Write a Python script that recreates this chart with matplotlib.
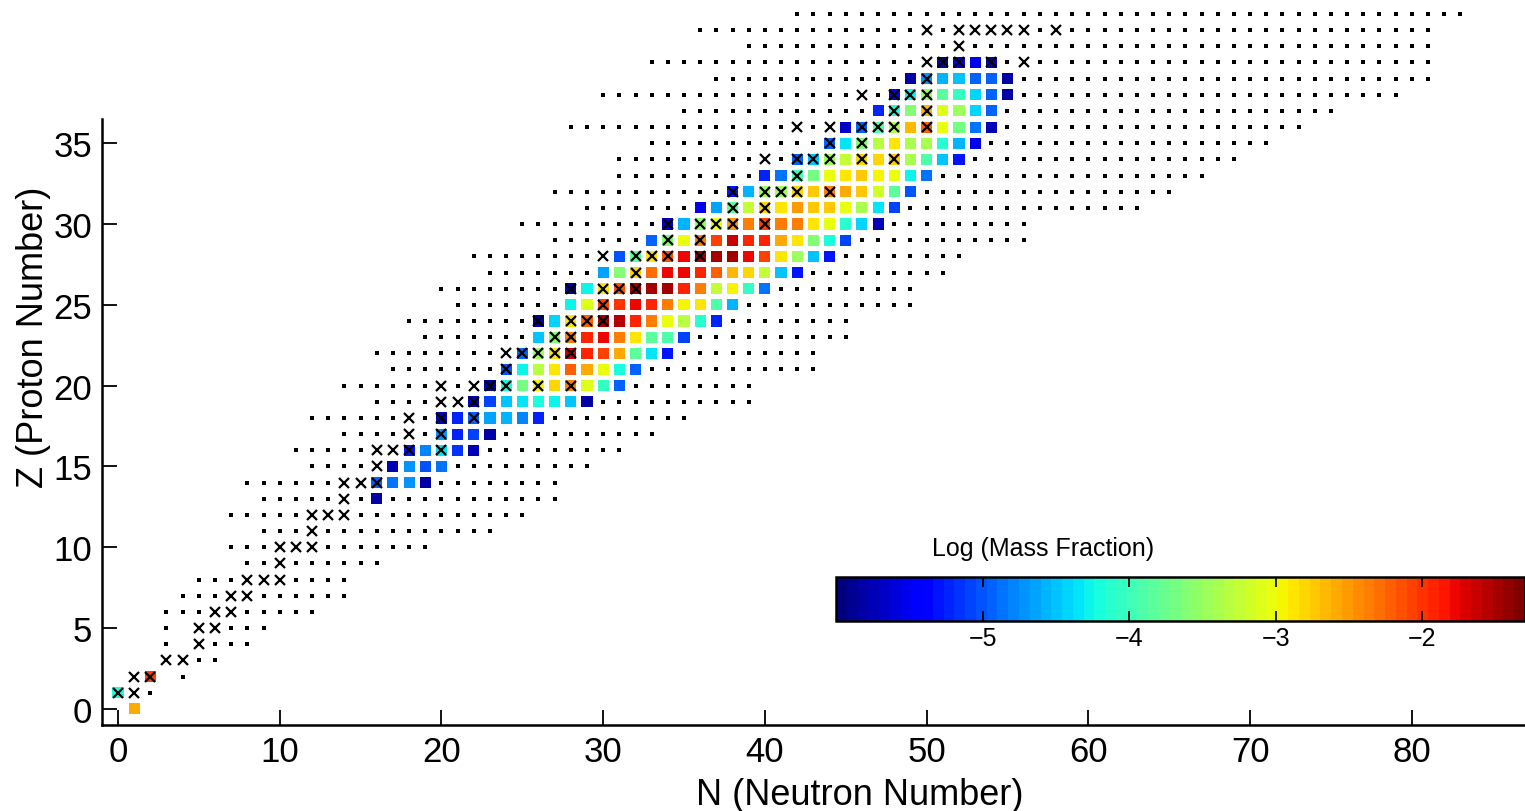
import matplotlib
matplotlib.use("Agg")
import matplotlib.pyplot as plt

plt.rcParams['font.family'] = ['Liberation Sans', 'DejaVu Sans']

# network nuclei: first and last neutron number for each Z = 0 .. 43
n_lo = [1, 0, 1, 3, 3, 3, 3, 4, 5, 8, 7, 9, 7, 9, 8, 12, 11, 14, 12, 16, 14, 17,
        16, 19, 18, 21, 20, 23, 22, 27, 25, 29, 27, 31, 31, 33, 28, 35, 30, 37, 33, 39, 36, 42]
n_hi = [1, 2, 4, 6, 8, 9, 12, 14, 14, 16, 19, 23, 25, 27, 27, 29, 31, 33, 35, 39, 39, 43,
        43, 45, 45, 49, 49, 51, 52, 56, 56, 63, 65, 67, 69, 71, 73, 75, 79, 81, 81, 81, 81, 83]
# (Z, N) holes inside those ranges (unbound)
gaps = [(2, 3), (4, 4), (5, 4)]

# stable isotopes (x marks), N per Z
stable = {
    1: [0, 1], 2: [1, 2], 3: [3, 4], 4: [5], 5: [5, 6], 6: [6, 7], 7: [7, 8],
    8: [8, 9, 10], 9: [10], 10: [10, 11, 12], 11: [12], 12: [12, 13, 14], 13: [14],
    14: [14, 15, 16], 15: [16], 16: [16, 17, 18, 20], 17: [18, 20], 18: [18, 20, 22],
    19: [20, 21, 22], 20: [20, 22, 23, 24, 26, 28], 21: [24], 22: [24, 25, 26, 27, 28],
    23: [27, 28], 24: [26, 28, 29, 30], 25: [30], 26: [28, 30, 31, 32], 27: [32],
    28: [30, 32, 33, 34, 36], 29: [34, 36], 30: [34, 36, 37, 38, 40], 31: [38, 40],
    32: [38, 40, 41, 42, 44], 33: [42], 34: [40, 42, 43, 44, 46, 48], 35: [44, 46],
    36: [42, 44, 46, 47, 48, 50], 37: [48, 50], 38: [46, 48, 49, 50], 39: [50],
    40: [50, 51, 52, 54, 56], 41: [52], 42: [50, 52, 53, 54, 55, 56, 58],
}

# log10 mass fraction: Z -> (first N, values along N)
abund = {
    0: (1, [-2.6]),
    1: (0, [-4.2]),
    2: (2, [-2.05]),
    13: (16, [-5.8]),
    14: (16, [-4.9, -4.85, -4.7, -5.8]),
    15: (17, [-5.75, -4.75, -5.0, -4.85]),
    16: (18, [-5.3, -4.8, -4.35, -5.15, -5.75]),
    17: (20, [-4.75, -5.2, -5.05, -5.85]),
    18: (20, [-5.7, -5.2, -4.95, -4.65, -4.6, -4.8, -5.25]),
    19: (22, [-5.75, -5.05, -4.5, -4.35, -4.2, -4.3, -4.5, -5.8]),
    20: (23, [-5.8, -4.2, -3.7, -2.95, -2.8, -2.4, -3.1, -4.05, -4.9]),
    21: (24, [-5.0, -4.3, -3.3, -2.85, -2.25, -2.6, -3.05, -4.2, -4.95]),
    22: (25, [-4.9, -3.5, -2.85, -1.65, -1.95, -2.1, -2.6, -3.8, -4.35, -5.3]),
    23: (26, [-4.5, -3.65, -2.4, -1.95, -1.75, -2.4, -2.85, -3.85, -3.9, -5.05]),
    24: (26, [-5.8, -4.45, -2.85, -2.25, -1.5, -1.55, -1.95, -2.4, -3.05, -3.3, -4.15, -5.2]),
    25: (28, [-4.25, -3.1, -2.05, -2.0, -1.75, -1.95, -2.35, -2.95, -2.85, -3.9, -4.6]),
    26: (28, [-5.85, -4.3, -2.85, -2.15, -1.5, -1.45, -1.45, -1.95, -2.35, -3.25, -2.95, -4.05, -4.85]),
    27: (30, [-4.65, -3.6, -2.8, -2.3, -1.8, -1.8, -1.95, -2.25, -2.65, -2.8, -3.25, -4.5, -5.3]),
    28: (31, [-5.0, -3.8, -2.9, -2.15, -1.8, -1.45, -1.45, -1.5, -1.75, -2.05, -2.9, -3.45, -4.5, -5.3]),
    29: (33, [-4.9, -3.65, -3.05, -2.4, -2.05, -1.65, -1.95, -1.95, -2.55, -2.85, -3.65, -4.2, -5.1]),
    30: (34, [-5.7, -4.6, -3.55, -3.05, -2.5, -2.4, -2.05, -2.4, -2.35, -2.9, -3.05, -4.1, -4.45, -5.75]),
    31: (36, [-5.5, -4.65, -3.8, -3.25, -2.8, -2.85, -2.5, -2.7, -2.7, -3.05, -3.4, -4.35, -5.05]),
    32: (38, [-5.3, -4.6, -3.5, -3.45, -2.8, -2.75, -2.35, -2.6, -2.75, -3.15, -3.8, -5.0]),
    33: (40, [-5.25, -4.85, -4.0, -3.7, -3.0, -2.85, -2.75, -2.95, -3.05, -4.3, -4.85]),
    34: (42, [-4.95, -4.5, -3.5, -3.25, -2.8, -2.8, -2.75, -3.4, -3.9, -4.5, -5.3]),
    35: (44, [-4.9, -4.35, -3.6, -3.3, -2.85, -3.4, -3.4, -4.15, -4.6, -5.55]),
    36: (45, [-5.65, -4.95, -3.9, -3.35, -2.65, -2.25, -3.0, -3.7, -4.85, -5.75]),
    37: (47, [-5.2, -4.15, -3.6, -2.65, -3.1, -3.45, -4.45, -4.9]),
    38: (48, [-5.5, -4.3, -3.45, -3.85, -4.05, -4.45, -4.9, -5.8]),
    39: (49, [-5.8, -4.7, -4.6, -4.5, -4.9, -4.95, -5.8]),
    40: (51, [-5.85, -5.6, -5.55, -5.75]),
}

cb_ticks = [-5, -4, -3, -2]

# collect points
sq_n, sq_z, sq_v = [], [], []
for z, (n0, vals) in abund.items():
    for i, v in enumerate(vals):
        sq_n.append(n0 + i)
        sq_z.append(z)
        sq_v.append(v)
colored = set(zip(sq_n, sq_z))

st_n, st_z = [], []
for z, ns in stable.items():
    for n in ns:
        st_n.append(n)
        st_z.append(z)
stab = set(zip(st_n, st_z))

dot_n, dot_z = [], []
for z in range(len(n_lo)):
    for n in range(n_lo[z], n_hi[z] + 1):
        if (z, n) in gaps or (n, z) in colored or (n, z) in stab:
            continue
        dot_n.append(n)
        dot_z.append(z)

fig = plt.figure(figsize=(15.25, 8.12), dpi=100)
ax = fig.add_axes([101.8 / 1525, 86 / 812, (1525 - 101.8) / 1525, 606 / 812])

cmap = plt.get_cmap('jet', 64)

ax.plot(dot_n, dot_z, ls='none', marker='s', ms=2.6, mew=0, color='k', clip_on=False, zorder=2)
sc = ax.scatter(sq_n, sq_z, c=sq_v, cmap=cmap, vmin=-6, vmax=-1.3, marker='s', s=64,
                edgecolors='none', clip_on=False, zorder=3)
ax.plot(st_n, st_z, ls='none', marker='x', ms=7.2, mew=1.6, color='k', clip_on=False, zorder=4)

ax.set_xlim(-1, 87)
ax.set_ylim(-1, 36.5)
ax.set_xticks(range(0, 81, 10))
ax.set_yticks(range(0, 36, 5))
for s in ['top', 'right']:
    ax.spines[s].set_visible(False)
for s in ['left', 'bottom']:
    ax.spines[s].set_linewidth(1.8)
ax.tick_params(direction='in', length=11, width=1.3, labelsize=25, pad=7)

ax.set_xlabel('N (Neutron Number)', fontsize=26)
ax.xaxis.set_label_coords((860 - 101.8) / 1423, -0.085)
ax.set_ylabel('Z (Proton Number)', fontsize=26)
ax.yaxis.set_label_coords(-0.036, (726 - 337) / 606)

# colour bar
cax = fig.add_axes([836 / 1525, (812 - 622) / 812, 689 / 1525, 44 / 812])
cb = fig.colorbar(sc, cax=cax, orientation='horizontal', ticks=cb_ticks)
cb.outline.set_linewidth(1.8)
cax.tick_params(direction='in', length=7, width=1.2, top=True, bottom=True, labelsize=18)
fig.text(1043 / 1525, (812 - 549) / 812, 'Log (Mass Fraction)', ha='center', va='center', fontsize=18)

fig.savefig('out.png', dpi=100)
